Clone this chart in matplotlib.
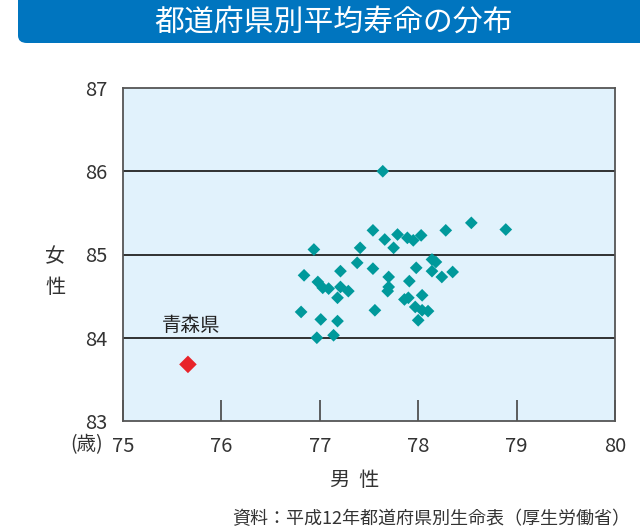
import matplotlib
matplotlib.use("Agg")
import matplotlib.pyplot as plt
from matplotlib.patches import FancyBboxPatch

plt.rcParams['font.family'] = ['Noto Sans CJK JP', 'DejaVu Sans']

# Prefecture data (male, female life expectancy), excluding Aomori
male = [77.64, 78.54, 78.89, 77.54, 78.28, 77.66, 77.79, 77.89, 77.95, 78.03,
        76.94, 77.41, 77.75, 78.14, 78.18, 77.38, 77.21, 77.54, 77.98, 78.14,
        78.35, 78.24, 76.84, 76.98, 77.03, 77.09, 77.21, 77.29, 77.18, 77.70,
        77.70, 77.69, 77.91, 78.04, 77.86, 77.90, 77.97, 78.04, 78.10, 78.00,
        77.56, 76.81, 77.01, 77.18, 76.97, 77.14]
female = [86.00, 85.38, 85.30, 85.29, 85.29, 85.18, 85.24, 85.20, 85.17, 85.23,
          85.06, 85.08, 85.08, 84.94, 84.91, 84.90, 84.80, 84.83, 84.84, 84.80,
          84.79, 84.73, 84.75, 84.67, 84.60, 84.59, 84.61, 84.56, 84.48, 84.73,
          84.61, 84.56, 84.68, 84.51, 84.46, 84.48, 84.37, 84.33, 84.32, 84.21,
          84.33, 84.31, 84.22, 84.20, 84.00, 84.03]
aomori_male = [75.66]
aomori_female = [83.68]
aomori_label = "青森県"

x_ticks = [75, 76, 77, 78, 79, 80]
y_ticks = [83, 84, 85, 86, 87]

title = "都道府県別平均寿命の分布"
source = "資料：平成12年都道府県別生命表（厚生労働省）"

fig = plt.figure(figsize=(6.4, 5.31), dpi=100)

# Title banner
banner = FancyBboxPatch((18 / 640, 1 - 43 / 531), 700 / 640, 60 / 531,
                        boxstyle="round,pad=0,rounding_size=0.014",
                        transform=fig.transFigure, facecolor="#0075BF",
                        edgecolor="none", zorder=0)
fig.patches.append(banner)
fig.text(334 / 640, 1 - 22 / 531, title, color="white", fontsize=21.5,
         ha="center", va="center")

ax = fig.add_axes([123 / 640, 1 - 421 / 531, 492 / 640, 333 / 531])
ax.set_facecolor("#E1F2FC")
ax.set_xlim(75, 80)
ax.set_ylim(83, 87)

for y in [84, 85, 86]:
    ax.axhline(y, color="#222222", lw=1.3, zorder=1)

ax.scatter(male, female, marker="D", s=42, color="#00999B", edgecolors="none", zorder=3)
ax.scatter(aomori_male, aomori_female, marker="D", s=80, color="#E8242A", edgecolors="none", zorder=3)
ax.text(75.69, 84.15, aomori_label, fontsize=14, color="#222222", ha="center", va="center")

for s in ax.spines.values():
    s.set_color("#555555")
    s.set_linewidth(1.3)

ax.set_xticks(x_ticks)
ax.set_yticks(y_ticks)
ax.tick_params(axis="x", direction="in", length=15, width=1.2, color="#444444",
               labelsize=14.5, labelcolor="#333333", pad=11)
ax.tick_params(axis="y", length=0, labelsize=14.5, labelcolor="#333333", pad=11)
ax.tick_params(axis="x", which="both", top=False)

fig.text(103 / 640, 1 - 445 / 531, "(歳)", fontsize=14, color="#333333",
         ha="right", va="center")
fig.text(55 / 640, 1 - 272 / 531, "女\n性", fontsize=14.5, color="#333333",
         ha="center", va="center", linespacing=1.6)
fig.text(355 / 640, 1 - 481 / 531, "男  性", fontsize=14.5, color="#333333",
         ha="center", va="center")
fig.text(630 / 640, 1 - 519 / 531, source, fontsize=13, color="#333333",
         ha="right", va="center")

fig.savefig("out.png", dpi=100)
